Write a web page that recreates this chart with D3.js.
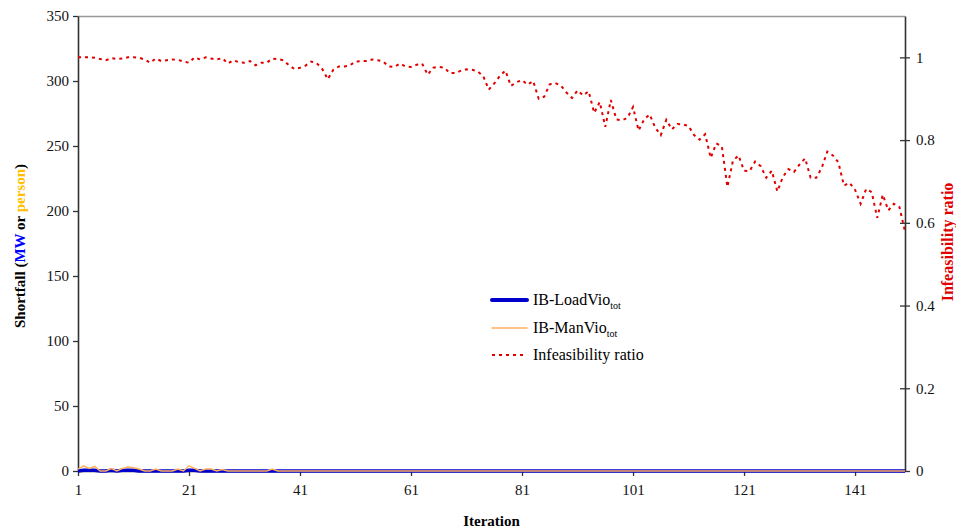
<!DOCTYPE html>
<html>
<head>
<meta charset="UTF-8">
<script src="https://d3js.org/d3.v7.min.js"></script>
<style>
  body { margin: 0; background: #fff; }
  text { font-family: "Liberation Serif", "Times New Roman", serif; }
</style>
</head>
<body>
<div id="chart"></div>
<script>
// iteration numbers 1..150
var iterations = d3.range(1, 151);

// Infeasibility ratio (right axis)
var infeasRatio = [
  1.000, 1.000, 1.000, 0.999, 0.996, 0.993, 0.998, 0.996, 0.997, 1.000,
  1.000, 0.999, 0.995, 0.987, 0.997, 0.991, 0.993, 0.995, 0.994, 0.990,
  0.987, 1.000, 0.995, 1.000, 0.997, 0.995, 0.998, 0.985, 0.993, 0.988,
  0.987, 0.991, 0.981, 0.987, 0.987, 0.997, 0.996, 0.993, 0.981, 0.972,
  0.975, 0.980, 0.990, 0.986, 0.972, 0.947, 0.970, 0.978, 0.978, 0.981,
  0.990, 0.991, 0.991, 0.995, 0.993, 0.990, 0.978, 0.977, 0.985, 0.978,
  0.977, 0.982, 0.985, 0.958, 0.975, 0.977, 0.975, 0.962, 0.962, 0.968,
  0.971, 0.970, 0.966, 0.955, 0.922, 0.937, 0.955, 0.968, 0.931, 0.940,
  0.945, 0.934, 0.943, 0.900, 0.905, 0.935, 0.938, 0.932, 0.915, 0.902,
  0.920, 0.908, 0.918, 0.866, 0.892, 0.832, 0.897, 0.850, 0.848, 0.854,
  0.880, 0.823, 0.850, 0.862, 0.830, 0.812, 0.849, 0.826, 0.839, 0.838,
  0.834, 0.812, 0.801, 0.814, 0.757, 0.792, 0.785, 0.687, 0.750, 0.763,
  0.726, 0.725, 0.748, 0.737, 0.709, 0.726, 0.676, 0.711, 0.730, 0.723,
  0.741, 0.756, 0.709, 0.709, 0.733, 0.772, 0.763, 0.746, 0.690, 0.697,
  0.680, 0.646, 0.682, 0.674, 0.612, 0.668, 0.630, 0.646, 0.638, 0.579
];

// IB-ManVio_tot (left axis, person), only the first iterations are non-zero
var manVio = [
  1.5, 4, 2, 3.5, 0, 0, 1.8, 0, 2, 3,
  2.5, 1.5, 0, 0, 1.5, 0, 0, 0, 1.5, 0,
  4, 2, 0, 1.5, 1.5, 0, 1.2, 0, 0, 0,
  0, 0, 0, 0, 0, 1.5, 0, 0, 0, 0,
  0, 0, 0, 0, 0, 0, 0, 0, 0, 0,
  0, 0, 0, 0, 0, 0, 0, 0, 0, 0,
  0, 0, 0, 0, 0, 0, 0, 0, 0, 0,
  0, 0, 0, 0, 0, 0, 0, 0, 0, 0,
  0, 0, 0, 0, 0, 0, 0, 0, 0, 0,
  0, 0, 0, 0, 0, 0, 0, 0, 0, 0,
  0, 0, 0, 0, 0, 0, 0, 0, 0, 0,
  0, 0, 0, 0, 0, 0, 0, 0, 0, 0,
  0, 0, 0, 0, 0, 0, 0, 0, 0, 0,
  0, 0, 0, 0, 0, 0, 0, 0, 0, 0,
  0, 0, 0, 0, 0, 0, 0, 0, 0, 0
];

// IB-LoadVio_tot (left axis, MW) - flat at zero with tiny bumps early on
var loadVio = [
  0, 0.5, 0.5, 0.5, 0, 0, 0.5, 0, 0.5, 0.5,
  0.5, 0, 0, 0, 0, 0, 0, 0, 0, 0,
  0.5, 0.5, 0, 0, 0, 0, 0, 0, 0, 0,
  0, 0, 0, 0, 0, 0, 0, 0, 0, 0,
  0, 0, 0, 0, 0, 0, 0, 0, 0, 0,
  0, 0, 0, 0, 0, 0, 0, 0, 0, 0,
  0, 0, 0, 0, 0, 0, 0, 0, 0, 0,
  0, 0, 0, 0, 0, 0, 0, 0, 0, 0,
  0, 0, 0, 0, 0, 0, 0, 0, 0, 0,
  0, 0, 0, 0, 0, 0, 0, 0, 0, 0,
  0, 0, 0, 0, 0, 0, 0, 0, 0, 0,
  0, 0, 0, 0, 0, 0, 0, 0, 0, 0,
  0, 0, 0, 0, 0, 0, 0, 0, 0, 0,
  0, 0, 0, 0, 0, 0, 0, 0, 0, 0,
  0, 0, 0, 0, 0, 0, 0, 0, 0, 0
];

var xTicks = [1, 21, 41, 61, 81, 101, 121, 141];
var leftTicks = [0, 50, 100, 150, 200, 250, 300, 350];
var rightTicks = [0, 0.2, 0.4, 0.6, 0.8, 1];

var W = 956, H = 531;
var plot = { left: 78, right: 905, top: 16, bottom: 471 };

var svg = d3.select("#chart").append("svg")
  .attr("width", W).attr("height", H);

var x = d3.scaleLinear().domain([1, 150]).range([plot.left, plot.right]);
var yL = d3.scaleLinear().domain([0, 350]).range([plot.bottom, plot.top]);
var yR = d3.scaleLinear().domain([0, 1.1]).range([plot.bottom, plot.top]);

// plot area top border
svg.append("line")
  .attr("x1", plot.left).attr("x2", plot.right)
  .attr("y1", plot.top + 0.5).attr("y2", plot.top + 0.5)
  .attr("stroke", "#999").attr("stroke-width", 1.5);

// axes
var gx = svg.append("g")
  .attr("transform", "translate(0," + plot.bottom + ")")
  .call(d3.axisBottom(x).tickValues(xTicks).tickFormat(d3.format("d")).tickSize(5).tickSizeOuter(0));

var gl = svg.append("g")
  .attr("transform", "translate(" + plot.left + ",0)")
  .call(d3.axisLeft(yL).tickValues(leftTicks).tickSize(5).tickSizeOuter(0));

var gr = svg.append("g")
  .attr("transform", "translate(" + plot.right + ",0)")
  .call(d3.axisRight(yR).tickValues(rightTicks).tickFormat(function (d) { return d3.format("")(+d.toFixed(1)); })
    .tickSize(5).tickSizeOuter(0));
gr.selectAll(".tick line").attr("x1", -5);

[gx, gl, gr].forEach(function (g) {
  g.select(".domain").attr("stroke", "#333").attr("stroke-width", 1.6);
  g.selectAll(".tick line").attr("stroke", "#333").attr("stroke-width", 1.3);
  g.selectAll(".tick text")
    .attr("fill", "#111")
    .style("font-family", "'Liberation Serif', serif")
    .style("font-size", "15px");
});
gx.selectAll(".tick text").attr("dy", "1.05em");
gl.selectAll(".tick text").attr("x", -9);
gr.selectAll(".tick text").attr("x", 11);

// series
var lineL = function (vals) {
  return d3.line()
    .x(function (d, i) { return x(iterations[i]); })
    .y(function (d) { return yL(d); })(vals);
};

svg.append("path")
  .attr("d", lineL(loadVio))
  .attr("fill", "none")
  .attr("stroke", "#0000CC")
  .attr("stroke-width", 3.5);

svg.append("path")
  .attr("d", lineL(manVio))
  .attr("fill", "none")
  .attr("stroke", "#FFB060")
  .attr("stroke-width", 1.5);

svg.append("path")
  .datum(infeasRatio)
  .attr("d", d3.line()
    .x(function (d, i) { return x(iterations[i]); })
    .y(function (d) { return yR(d); }))
  .attr("fill", "none")
  .attr("stroke", "#E00000")
  .attr("stroke-width", 2)
  .attr("stroke-dasharray", "3,4");

// axis titles
svg.append("text")
  .attr("x", (plot.left + plot.right) / 2).attr("y", 526)
  .attr("text-anchor", "middle")
  .style("font-size", "15px").style("font-weight", "bold")
  .text("Iteration");

var ylab = svg.append("text")
  .attr("transform", "translate(25,246) rotate(-90)")
  .attr("text-anchor", "middle")
  .style("font-size", "15px").style("font-weight", "bold");
ylab.append("tspan").text("Shortfall (");
ylab.append("tspan").attr("fill", "#0000FF").text("MW");
ylab.append("tspan").text(" or ");
ylab.append("tspan").attr("fill", "#FFC000").text("person");
ylab.append("tspan").text(")");

svg.append("text")
  .attr("transform", "translate(953,242) rotate(-90)")
  .attr("text-anchor", "middle")
  .attr("fill", "#E00000")
  .style("font-size", "16px").style("font-weight", "bold")
  .text("Infeasibility ratio");

// legend
var legendItems = [
  { name: "IB-LoadVio", sub: "tot", color: "#0000CC", width: 4, dash: null, y: 300 },
  { name: "IB-ManVio", sub: "tot", color: "#FFB060", width: 1.5, dash: null, y: 328 },
  { name: "Infeasibility ratio", sub: "", color: "#E00000", width: 2, dash: "3,4", y: 355 }
];
var lg = svg.append("g").selectAll("g").data(legendItems).enter().append("g");
lg.append("line")
  .attr("x1", 492).attr("x2", 527)
  .attr("y1", function (d) { return d.y; }).attr("y2", function (d) { return d.y; })
  .attr("stroke", function (d) { return d.color; })
  .attr("stroke-width", function (d) { return d.width; })
  .attr("stroke-linecap", function (d) { return d.dash ? "butt" : "round"; })
  .attr("stroke-dasharray", function (d) { return d.dash; });
var lt = lg.append("text")
  .attr("x", 533).attr("y", function (d) { return d.y + 5; })
  .style("font-size", "16px");
lt.append("tspan").text(function (d) { return d.name; });
lt.append("tspan")
  .attr("dy", 4)
  .style("font-size", "10px")
  .text(function (d) { return d.sub; });
</script>
</body>
</html>
